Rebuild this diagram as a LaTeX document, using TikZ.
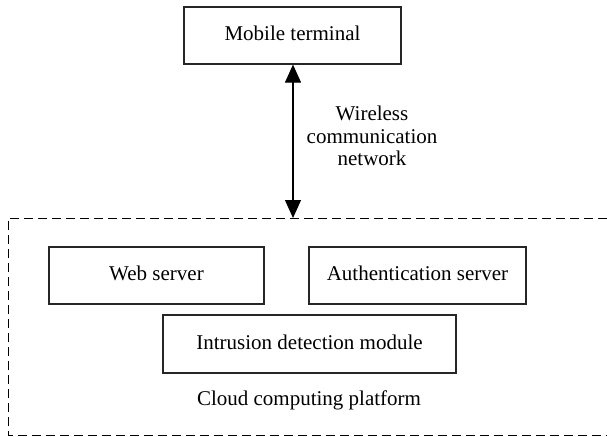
\documentclass[tikz,border=0pt]{standalone}
\usepackage{fontspec}
\setmainfont{Liberation Serif}
\usetikzlibrary{arrows.meta}
\begin{document}
\begin{tikzpicture}[x=1pt,y=-1pt,
  box/.style={draw=black!85, line width=1.2pt, inner sep=0pt, minimum height=57pt, text height=14pt, text depth=4pt},
  lbl/.style={font=\fontsize{21}{22.5}\selectfont},
  every node/.append style={lbl}]
\useasboundingbox (0,0) rectangle (607,436);
\node[box, minimum width=217pt] (mobile) at (292.5,35.5) {Mobile terminal};
\node[box, minimum width=215pt] (web) at (156.5,275.5) {Web server};
\node[box, minimum width=217pt] (auth) at (417.5,275.5) {Authentication server};
\node[box, minimum width=293pt, minimum height=58pt] (ids) at (309.5,344) {Intrusion detection module};
\node[anchor=base] (cloud) at (309,405) {Cloud computing platform};
\node[align=center, inner sep=0pt] (wl) at (372,136) {Wireless\\communication\\network};
\draw[line width=1pt, dash pattern=on 9pt off 5pt] (607,218) -- (8,218) -- (8,435) -- (607,435);
\coordinate (cp) at (293,218);
\draw[line width=1.1pt, {Triangle[length=18pt,width=16pt]}-{Triangle[length=18pt,width=16pt]}] (mobile.south -| cp) -- (cp);
\end{tikzpicture}
\end{document}
